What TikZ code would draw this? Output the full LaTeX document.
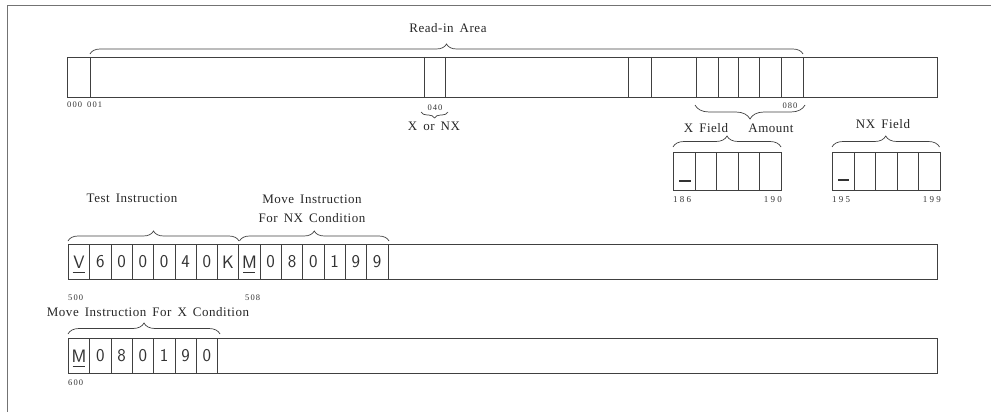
\documentclass[tikz,border=0pt]{standalone}
\usepackage{fontspec}
\setmainfont{Liberation Serif}
\newfontfamily\lblfont[LetterSpace=4,WordSpace=1.6]{Liberation Serif}
\newfontfamily\numfont[LetterSpace=13]{Liberation Serif}
\newfontfamily\bignumfont[LetterSpace=25]{Liberation Serif}
\usetikzlibrary{decorations.pathreplacing}
\tikzset{
 ln/.style={draw=black!75, line width=0.7pt},
 lbl/.style={font=\lblfont\fontsize{13}{15}\selectfont, inner sep=0pt, text=black!85},
 num/.style={font=\numfont\fontsize{8.5}{9}\selectfont, inner sep=0pt, text=black!80},
 bignum/.style={font=\bignumfont\fontsize{9}{10}\selectfont, inner sep=0pt, text=black!80},
 cellbox/.style={ln, minimum width=21.3pt, minimum height=35pt, inner sep=0pt, anchor=north west, font=\sffamily\fontsize{18}{18}\selectfont, text=black!80},
 restbox/.style={ln, minimum height=35pt, inner sep=0pt, anchor=north west},
 fieldbox/.style={ln, minimum width=21.6pt, minimum height=38pt, inner sep=0pt, anchor=north west},
 brc/.style={ln, decorate, decoration={brace, amplitude=#1}},
 uline/.style={draw=black!80, line width=1pt},
}
\begin{document}
\begin{tikzpicture}[x=1pt,y=-1pt]
\useasboundingbox (0,0) rectangle (991,412);
% frame
\draw[draw=black!55, line width=0.7pt] (7,412) -- (7,5) -- (991,5);

% read-in strip
\node[ln, minimum width=870pt, minimum height=40pt, inner sep=0pt, anchor=north west] (strip) at (67,57) {};
\foreach \x in {90,424,445,628,651,696,718,738,759,781,803}
  \draw[ln] (\x,57) -- (\x,97);
\draw[brc=10] (90,54) -- (803,54);
\node[lbl] (readin) at (448,28) {Read-in Area};
\node[num, anchor=west] (n000) at (67,105) {000};
\node[num, anchor=west] (n001) at (87,105) {001};
\node[num] (n040) at (435,108) {040};
\draw[brc=6] (448,112) -- (421,112);
\node[lbl] (xornx) at (434,126) {X or NX};
\node[num] (n080) at (790,106) {080};
\draw[brc=14] (805,105) -- (695,105);
\node[lbl] (xfield) at (706,128) {X Field};
\node[lbl] (amount) at (771,128) {Amount};
\node[lbl] (nxfield) at (883,124) {NX Field};

% X field
\foreach \i in {0,...,4}
  \node[fieldbox] (xf\i) at ({673+\i*21.6},152) {};
\draw[brc=11] (673,147) -- (781,147);
\draw[uline, line width=1.2pt] (679,181) -- (691,181);
\node[bignum, anchor=west] (n186) at (673,200) {186};
\node[bignum, anchor=east] (n190) at (782,200) {190};

% NX field
\foreach \i in {0,...,4}
  \node[fieldbox] (nf\i) at ({832+\i*21.5},152) {};
\draw[brc=11] (832,147) -- (939.5,147);
\draw[uline, line width=1.2pt] (838,180) -- (849,180);
\node[bignum, anchor=west] (n195) at (832,200) {195};
\node[bignum, anchor=east] (n199) at (941,200) {199};

% row 2
\foreach \t [count=\i] in {V,6,0,0,0,4,0,K,M,0,8,0,1,9,9}
  \node[cellbox] (ra\i) at ({68+(\i-1)*21.3},244) {\t};
\node[restbox, minimum width=549.5pt] (rarest) at (387.5,244) {};
\draw[uline] (72.6,272) -- (84.6,272);
\draw[uline] (243,272) -- (255,272);
\draw[brc=10] (68,241) -- (239,241);
\draw[brc=10] (239.5,241) -- (389,241);
\node[lbl] (testi) at (132,198) {Test Instruction};
\node[lbl] (movenx1) at (312,199) {Move Instruction};
\node[lbl] (movenx2) at (312,218) {For NX Condition};
\node[num, anchor=west] (n500) at (68,298) {500};
\node[num, anchor=west] (n508) at (245,298) {508};

% row 3
\foreach \t [count=\i] in {M,0,8,0,1,9,0}
  \node[cellbox] (rb\i) at ({68+(\i-1)*21.3},338) {\t};
\node[restbox, minimum width=719.9pt] (rbrest) at (217.1,338) {};
\draw[uline] (72.6,366) -- (84.6,366);
\draw[brc=11] (68,334) -- (220,334);
\node[lbl] (movex) at (148,312) {Move Instruction For X Condition};
\node[num, anchor=west] (n600) at (68,383) {600};
\end{tikzpicture}
\end{document}
